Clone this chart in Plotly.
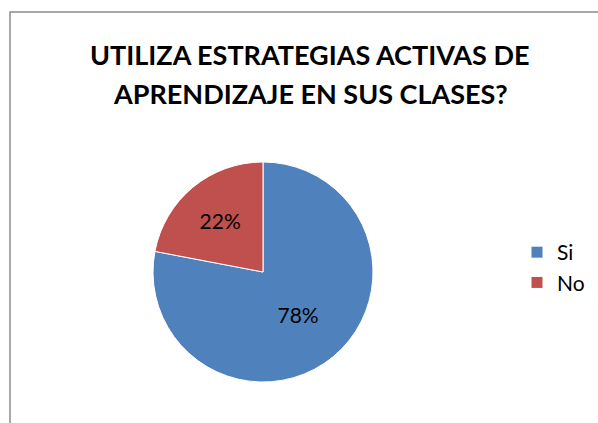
import plotly.graph_objects as go

labels = ["Si", "No"]
values = [78, 22]
colors = ["#4F81BD", "#C0504D"]
title_lines = ["UTILIZA ESTRATEGIAS ACTIVAS DE", "APRENDIZAJE EN SUS CLASES?"]

W, H = 598, 423
font_family = "Lato, Open Sans, Arial, sans-serif"

fig = go.Figure(go.Pie(
    labels=labels,
    values=values,
    marker=dict(colors=colors, line=dict(color="white", width=1)),
    sort=False,
    direction="clockwise",
    rotation=0,
    textinfo="percent",
    texttemplate="%{percent:.0%}",
    textposition="inside",
    insidetextorientation="horizontal",
    textfont=dict(size=21, color="black", family=font_family),
    domain=dict(x=[(263 - 110) / W, (263 + 110) / W],
                y=[(151 - 110) / H, (151 + 110) / H]),
    hoverinfo="label+percent",
))

# chart-area border (only the top and left edges show in the crop)
fig.add_shape(type="rect", xref="paper", yref="paper",
              x0=10 / W, x1=1.05, y0=-0.05, y1=(H - 12) / H,
              line=dict(color="#8c8c8c", width=1.5))

for i, line in enumerate(title_lines):
    fig.add_annotation(text="<b>%s</b>" % line, xref="paper", yref="paper",
                       x=310 / W, y=(H - 55 - 38 * i) / H, showarrow=False,
                       xanchor="center", yanchor="middle",
                       font=dict(size=27, color="black", family=font_family))

fig.update_layout(
    width=W, height=H,
    margin=dict(l=0, r=0, t=0, b=0, autoexpand=False),
    paper_bgcolor="white",
    plot_bgcolor="white",
    font=dict(family=font_family, color="black"),
    legend=dict(x=517 / W, y=(H - 232) / H, xanchor="left", yanchor="top",
                font=dict(size=21), itemwidth=30, traceorder="normal"),
)

fig.write_html("out.html", config={"displayModeBar": False},
               post_script="document.body.style.margin='0';")
